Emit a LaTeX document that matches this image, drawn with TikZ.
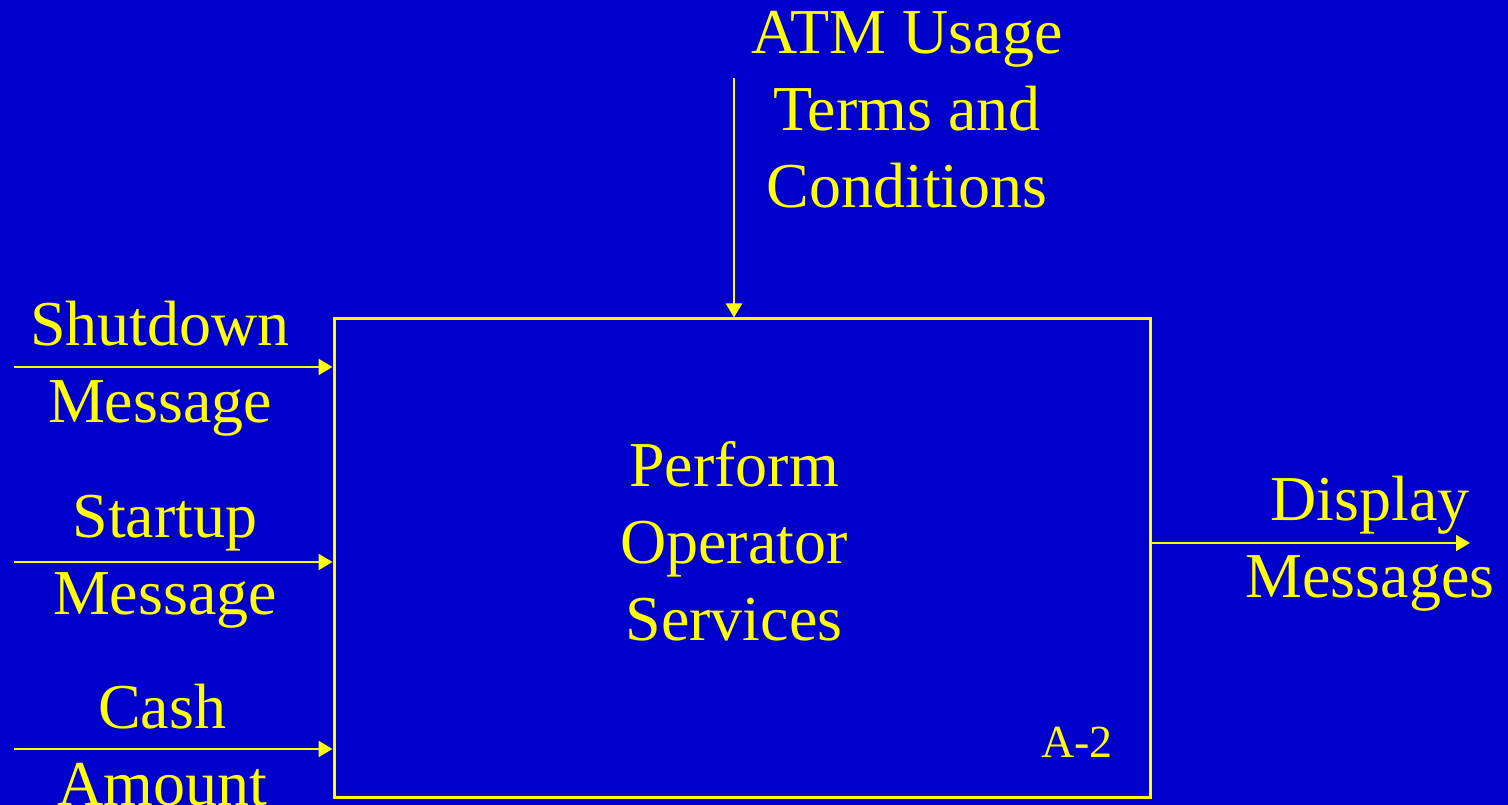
\documentclass[tikz,border=0pt]{standalone}
\usepackage{fontspec}
\setmainfont{Liberation Serif}
\usetikzlibrary{arrows.meta,calc}
\definecolor{slideblue}{RGB}{0,0,204}
\definecolor{slideyellow}{RGB}{255,255,0}

\begin{document}
\begin{tikzpicture}[x=1pt, y=1pt]
    \tikzstyle{label} = [text=slideyellow, font=\fontsize{64}{77}\selectfont, align=center, inner sep=0pt, anchor=north]
    \tikzstyle{process} = [rectangle, draw=slideyellow, line width=3pt, minimum width=816pt, minimum height=479pt, inner sep=0pt]
    \tikzstyle{flow} = [draw=slideyellow, line width=2.5pt, -{Triangle[length=14pt,width=16pt]}]

    % Background
    \fill[slideblue] (0,0) rectangle (1508,805);
    \useasboundingbox (0,0) rectangle (1508,805);

    % Activity box
    \node[process] (activity) at (742,246.5) {};
    \node[label] (name) at (734,364) {Perform\\Operator\\Services};
    \node[label, font=\fontsize{46}{55}\selectfont] (number) at (1077,78) {A-2};

    % Labels
    \node[label] (terms) at (907,794) {ATM Usage\\Terms and\\Conditions};
    \node[label] (shutdown) at (160,504) {Shutdown\\Message};
    \node[label] (startup) at (165,310) {Startup\\Message};
    \node[label] (cash) at (162,121) {Cash\\Amount};
    \node[label] (display) at (1370,329) {Display\\Messages};

    % Free ends
    \coordinate (control) at (734,727);
    \coordinate (in1) at (14,438);
    \coordinate (in2) at (14,243);
    \coordinate (in3) at (14,56);
    \coordinate (out) at (1470,262);

    % Connections
    \draw[flow] (control) -- (control |- activity.north);
    \draw[flow] (in1) -- (in1 -| activity.west);
    \draw[flow] (in2) -- (in2 -| activity.west);
    \draw[flow] (in3) -- (in3 -| activity.west);
    \draw[flow, line width=2pt] (out -| activity.east) -- (out);
\end{tikzpicture}
\end{document}
